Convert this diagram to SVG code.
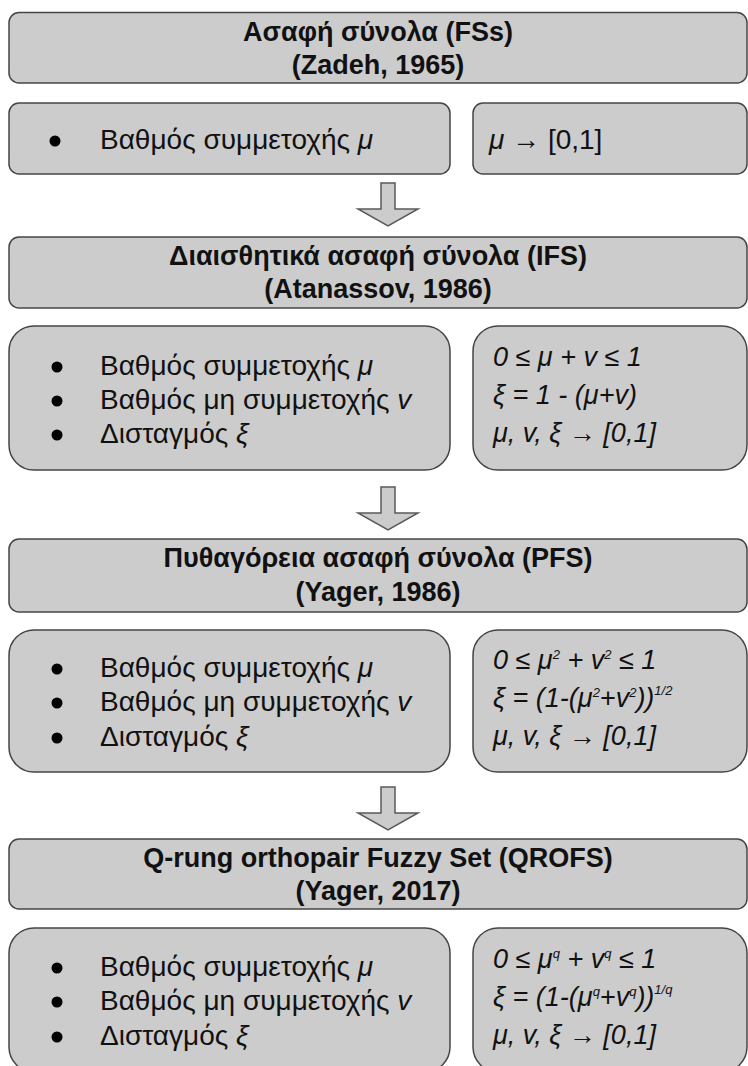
<svg xmlns="http://www.w3.org/2000/svg" width="748" height="1066" viewBox="0 0 748 1066">
<style>
.box{fill:#cccccc;stroke:#454545;stroke-width:1.5}
.arrow{fill:#cccccc;stroke:#595959;stroke-width:1.5}
text{font-family:"Liberation Sans",Arial,sans-serif;fill:#111111}
.title{font-size:27px;font-weight:bold;text-anchor:middle}
.item{font-size:28px}
.f{font-size:27px;font-style:italic}
.sup{font-size:13px}
.i{font-style:italic}
</style>
<rect width="748" height="1066" fill="#ffffff"/>

<g id="fs-title">
<rect class="box" x="9" y="12.5" width="738" height="70.5" rx="10"/>
<text class="title" x="378" y="41">Ασαφή σύνολα (FSs)</text>
<text class="title" x="378" y="74">(Zadeh, 1965)</text>
</g>
<g id="fs-props">
<rect class="box" x="9" y="103" width="441" height="71" rx="10"/>
<circle cx="55" cy="141" r="5.5" fill="#000"/>
<text class="item" x="100" y="149">Βαθμός συμμετοχής <tspan class="i">μ</tspan></text>
</g>
<g id="fs-formula">
<rect class="box" x="473" y="103" width="274" height="71" rx="10"/>
<text class="item" x="489" y="149"><tspan class="i">μ</tspan> → [0,1]</text>
</g>

<g id="ifs-title">
<rect class="box" x="9" y="237" width="738" height="71" rx="10"/>
<text class="title" x="378" y="265">Διαισθητικά ασαφή σύνολα (IFS)</text>
<text class="title" x="378" y="298">(Atanassov, 1986)</text>
</g>
<g id="ifs-props">
<rect class="box" x="9" y="326" width="441" height="144" rx="25"/>
<circle cx="57" cy="367" r="5.5" fill="#000"/>
<circle cx="57" cy="401" r="5.5" fill="#000"/>
<circle cx="57" cy="435" r="5.5" fill="#000"/>
<text class="item" x="100" y="375">Βαθμός συμμετοχής <tspan class="i">μ</tspan></text>
<text class="item" x="100" y="409">Βαθμός μη συμμετοχής <tspan class="i">v</tspan></text>
<text class="item" x="100" y="443">Δισταγμός <tspan class="i">ξ</tspan></text>
</g>
<g id="ifs-formula">
<rect class="box" x="473" y="326" width="274" height="144" rx="25"/>
<text class="f" x="493" y="366">0 ≤ μ + v ≤ 1</text>
<text class="f" x="493" y="404">ξ = 1 - (μ+v)</text>
<text class="f" x="493" y="442">μ, v, ξ → [0,1]</text>
</g>

<g id="pfs-title">
<rect class="box" x="9" y="539" width="738" height="73" rx="10"/>
<text class="title" x="378" y="567">Πυθαγόρεια ασαφή σύνολα (PFS)</text>
<text class="title" x="378" y="601">(Yager, 1986)</text>
</g>
<g id="pfs-props">
<rect class="box" x="9" y="630" width="441" height="142" rx="25"/>
<circle cx="57" cy="669" r="5.5" fill="#000"/>
<circle cx="57" cy="703" r="5.5" fill="#000"/>
<circle cx="57" cy="738" r="5.5" fill="#000"/>
<text class="item" x="100" y="677">Βαθμός συμμετοχής <tspan class="i">μ</tspan></text>
<text class="item" x="100" y="711">Βαθμός μη συμμετοχής <tspan class="i">v</tspan></text>
<text class="item" x="100" y="746">Δισταγμός <tspan class="i">ξ</tspan></text>
</g>
<g id="pfs-formula">
<rect class="box" x="473" y="630" width="274" height="142" rx="25"/>
<text class="f" x="493" y="669">0 ≤ μ<tspan class="sup" dy="-10">2</tspan><tspan dy="10"> + v</tspan><tspan class="sup" dy="-10">2</tspan><tspan dy="10"> ≤ 1</tspan></text>
<text class="f" x="493" y="707">ξ = (1-(μ<tspan class="sup" dy="-10">2</tspan><tspan dy="10">+v</tspan><tspan class="sup" dy="-10">2</tspan><tspan dy="10">))</tspan><tspan class="sup" dy="-12">1/2</tspan></text>
<text class="f" x="493" y="745">μ, v, ξ → [0,1]</text>
</g>

<g id="qrofs-title">
<rect class="box" x="9" y="839" width="738" height="70" rx="10"/>
<text class="title" x="378" y="867">Q-rung orthopair Fuzzy Set (QROFS)</text>
<text class="title" x="378" y="900">(Yager, 2017)</text>
</g>
<g id="qrofs-props">
<rect class="box" x="9" y="928" width="441" height="144" rx="25"/>
<circle cx="57" cy="968" r="5.5" fill="#000"/>
<circle cx="57" cy="1002" r="5.5" fill="#000"/>
<circle cx="57" cy="1037" r="5.5" fill="#000"/>
<text class="item" x="100" y="976">Βαθμός συμμετοχής <tspan class="i">μ</tspan></text>
<text class="item" x="100" y="1010">Βαθμός μη συμμετοχής <tspan class="i">v</tspan></text>
<text class="item" x="100" y="1045">Δισταγμός <tspan class="i">ξ</tspan></text>
</g>
<g id="qrofs-formula">
<rect class="box" x="473" y="928" width="274" height="144" rx="25"/>
<text class="f" x="493" y="968">0 ≤ μ<tspan class="sup" dy="-10">q</tspan><tspan dy="10"> + v</tspan><tspan class="sup" dy="-10">q</tspan><tspan dy="10"> ≤ 1</tspan></text>
<text class="f" x="493" y="1006">ξ = (1-(μ<tspan class="sup" dy="-10">q</tspan><tspan dy="10">+v</tspan><tspan class="sup" dy="-10">q</tspan><tspan dy="10">))</tspan><tspan class="sup" dy="-12">1/q</tspan></text>
<text class="f" x="493" y="1044">μ, v, ξ → [0,1]</text>
</g>

<g id="connectors">
<polygon class="arrow" points="381,183 395,183 395,209 418,209 388,226 358,209 381,209"/>
<polygon class="arrow" points="381,487 395,487 395,513 418,513 388,530 358,513 381,513"/>
<polygon class="arrow" points="381,787 395,787 395,813 418,813 388,830 358,813 381,813"/>
</g>
</svg>
